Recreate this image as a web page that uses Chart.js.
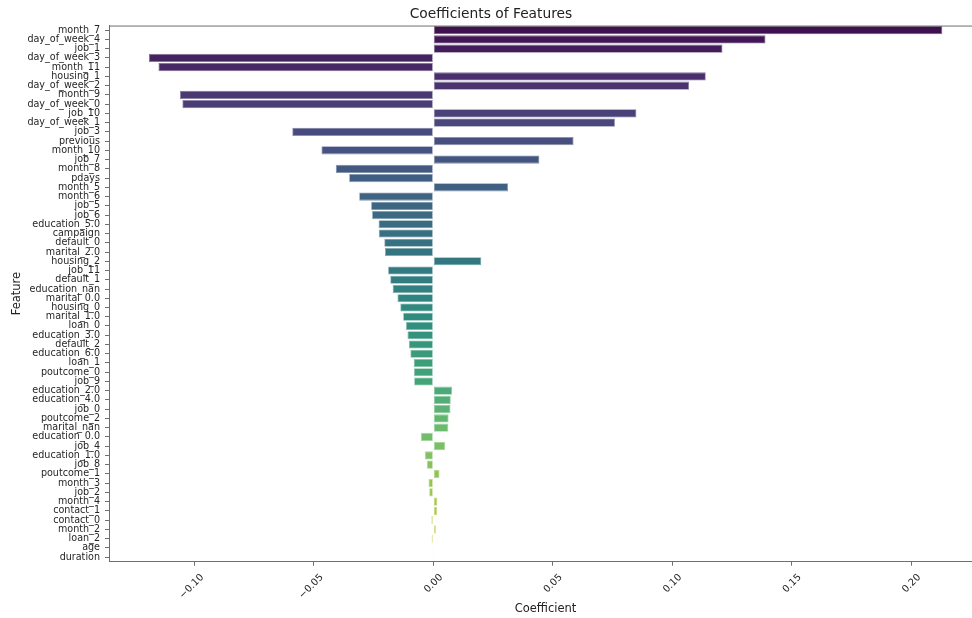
<!DOCTYPE html>
<html>
<head>
<meta charset="utf-8">
<title>Coefficients of Features</title>
<script src="https://cdn.jsdelivr.net/npm/chart.js@4.4.1/dist/chart.umd.min.js"></script>
<style>
    html, body { margin: 0; padding: 0; background: #ffffff; overflow: hidden; }
    canvas { display: block; }
</style>
</head>
<body>
<canvas id="coefChart" width="982" height="618"></canvas>
<script>
// Datos (ordenados por |coeficiente|)
const features = [
    'month_7', 'day_of_week_4', 'job_1', 'day_of_week_3', 'month_11', 'housing_1',
    'day_of_week_2', 'month_9', 'day_of_week_0', 'job_10', 'day_of_week_1', 'job_3',
    'previous', 'month_10', 'job_7', 'month_8', 'pdays', 'month_5', 'month_6',
    'job_5', 'job_6', 'education_5.0', 'campaign', 'default_0', 'marital_2.0',
    'housing_2', 'job_11', 'default_1', 'education_nan', 'marital_0.0', 'housing_0',
    'marital_1.0', 'loan_0', 'education_3.0', 'default_2', 'education_6.0', 'loan_1',
    'poutcome_0', 'job_9', 'education_2.0', 'education_4.0', 'job_0', 'poutcome_2',
    'marital_nan', 'education_0.0', 'job_4', 'education_1.0', 'job_8', 'poutcome_1',
    'month_3', 'job_2', 'month_4', 'contact_1', 'contact_0', 'month_2', 'loan_2',
    'age', 'duration'
];

const coefficients = [
    0.213, 0.139, 0.121, -0.119, -0.115, 0.114,
    0.107, -0.106, -0.105, 0.085, 0.076, -0.059,
    0.0587, -0.0468, 0.0444, -0.0408, -0.0352, 0.0313, -0.031,
    -0.026, -0.0256, -0.0229, -0.0228, -0.0205, -0.0202,
    0.0201, -0.0189, -0.018, -0.017, -0.015, -0.0138,
    -0.0126, -0.0114, -0.0108, -0.0102, -0.0096, -0.0082,
    -0.0081, -0.0080, 0.0079, 0.0073, 0.0072, 0.0064,
    0.0063, -0.0052, 0.0049, -0.0035, -0.0027, 0.0026,
    -0.0020, -0.0017, 0.0017, 0.0016, -0.0008, 0.0011, -0.0007,
    -0.0003, 0.0001
];

const xTickValues = [-0.10, -0.05, 0.00, 0.05, 0.10, 0.15, 0.20];
const xTickLabels = ['\u22120.10', '\u22120.05', '0.00', '0.05', '0.10', '0.15', '0.20'];

const X_MIN = -0.1357;
const X_MAX = 0.2296;

// Paleta viridis (10 puntos) + desaturacion 0.75 como seaborn
const viridisStops = ['#440154', '#482878', '#3e4989', '#31688e', '#26828e',
                      '#1f9e89', '#35b779', '#6ece58', '#b5de2b', '#fde725'];

function hexToRgb(hex) {
    const n = parseInt(hex.slice(1), 16);
    return [(n >> 16) & 255, (n >> 8) & 255, n & 255];
}

function viridis(t) {
    const pos = t * (viridisStops.length - 1);
    const i = Math.min(Math.floor(pos), viridisStops.length - 2);
    const f = pos - i;
    const a = hexToRgb(viridisStops[i]);
    const b = hexToRgb(viridisStops[i + 1]);
    return a.map((v, k) => (v + (b[k] - v) * f) / 255);
}

function desaturate(rgb, prop) {
    const [r, g, b] = rgb;
    const max = Math.max(r, g, b), min = Math.min(r, g, b);
    const l = (max + min) / 2;
    let h = 0, s = 0;
    if (max !== min) {
        const d = max - min;
        s = l > 0.5 ? d / (2 - max - min) : d / (max + min);
        if (max === r) h = ((g - b) / d + (g < b ? 6 : 0)) / 6;
        else if (max === g) h = ((b - r) / d + 2) / 6;
        else h = ((r - g) / d + 4) / 6;
    }
    s *= prop;
    const hue2rgb = (p, q, t) => {
        if (t < 0) t += 1;
        if (t > 1) t -= 1;
        if (t < 1 / 6) return p + (q - p) * 6 * t;
        if (t < 1 / 2) return q;
        if (t < 2 / 3) return p + (q - p) * (2 / 3 - t) * 6;
        return p;
    };
    if (s === 0) return [l, l, l];
    const q = l < 0.5 ? l * (1 + s) : l + s - l * s;
    const p = 2 * l - q;
    return [hue2rgb(p, q, h + 1 / 3), hue2rgb(p, q, h), hue2rgb(p, q, h - 1 / 3)];
}

const toCss = (rgb) => `rgb(${rgb.map(v => Math.round(v * 255)).join(',')})`;

const baseColors = features.map((_, i) => desaturate(viridis((i + 1) / (features.length + 1)), 0.75));
const barColors = baseColors.map(toCss);
// borde un poco mas claro que el relleno
const edgeColors = baseColors.map(rgb => toCss(rgb.map(v => v + (1 - v) * 0.35)));

// Linea superior del marco (spine de arriba)
const topSpine = {
    id: 'topSpine',
    afterDraw(chart) {
        const { ctx, chartArea } = chart;
        ctx.save();
        ctx.strokeStyle = '#6f6f6f';
        ctx.lineWidth = 1;
        ctx.beginPath();
        ctx.moveTo(chartArea.left, chartArea.top + 0.5);
        ctx.lineTo(chartArea.right, chartArea.top + 0.5);
        ctx.stroke();
        ctx.restore();
    }
};

const FONT = "'DejaVu Sans', sans-serif";

new Chart(document.getElementById('coefChart'), {
    type: 'bar',
    data: {
        labels: features,
        datasets: [{
            data: coefficients,
            backgroundColor: barColors,
            borderColor: edgeColors,
            borderWidth: 0.8,
            borderSkipped: false,
            categoryPercentage: 1.0,
            barPercentage: 0.88
        }]
    },
    options: {
        indexAxis: 'y',
        responsive: false,
        animation: false,
        layout: { padding: 0 },
        plugins: {
            legend: { display: false },
            tooltip: { enabled: false },
            title: {
                display: true,
                text: 'Coefficients of Features',
                color: '#222222',
                font: { family: FONT, size: 13.8, weight: 'normal' },
                padding: { top: 6, bottom: 3 }
            }
        },
        scales: {
            x: {
                type: 'linear',
                min: X_MIN,
                max: X_MAX,
                afterBuildTicks(scale) {
                    scale.ticks = xTickValues.map(v => ({ value: v }));
                },
                afterFit(scale) {
                    scale.height = 56.3;
                },
                grid: {
                    display: true,
                    drawOnChartArea: false,
                    drawTicks: true,
                    tickLength: 4,
                    color: '#6f6f6f'
                },
                border: { display: true, color: '#6f6f6f', width: 1 },
                ticks: {
                    color: '#262626',
                    font: { family: FONT, size: 9.8 },
                    minRotation: 45,
                    maxRotation: 45,
                    padding: 6,
                    labelOffset: 8,
                    callback: (value) => {
                        const idx = xTickValues.findIndex(v => Math.abs(v - value) < 1e-9);
                        return idx >= 0 ? xTickLabels[idx] : '';
                    }
                },
                title: {
                    display: true,
                    text: 'Coefficient',
                    color: '#222222',
                    font: { family: FONT, size: 11.5 },
                    padding: { top: 0, bottom: 2 }
                }
            },
            y: {
                type: 'category',
                offset: true,
                afterFit(scale) {
                    scale.width = 109;
                },
                grid: {
                    display: true,
                    offset: false,
                    drawOnChartArea: false,
                    drawTicks: true,
                    tickLength: 4,
                    color: '#6f6f6f'
                },
                border: { display: true, color: '#6f6f6f', width: 1 },
                ticks: {
                    autoSkip: false,
                    color: '#262626',
                    font: { family: FONT, size: 9.6, lineHeight: 1 },
                    padding: 5
                },
                title: {
                    display: true,
                    text: 'Feature',
                    color: '#222222',
                    font: { family: FONT, size: 11.5 },
                    padding: { top: 10, bottom: 0 }
                }
            }
        }
    },
    plugins: [topSpine]
});
</script>
</body>
</html>
